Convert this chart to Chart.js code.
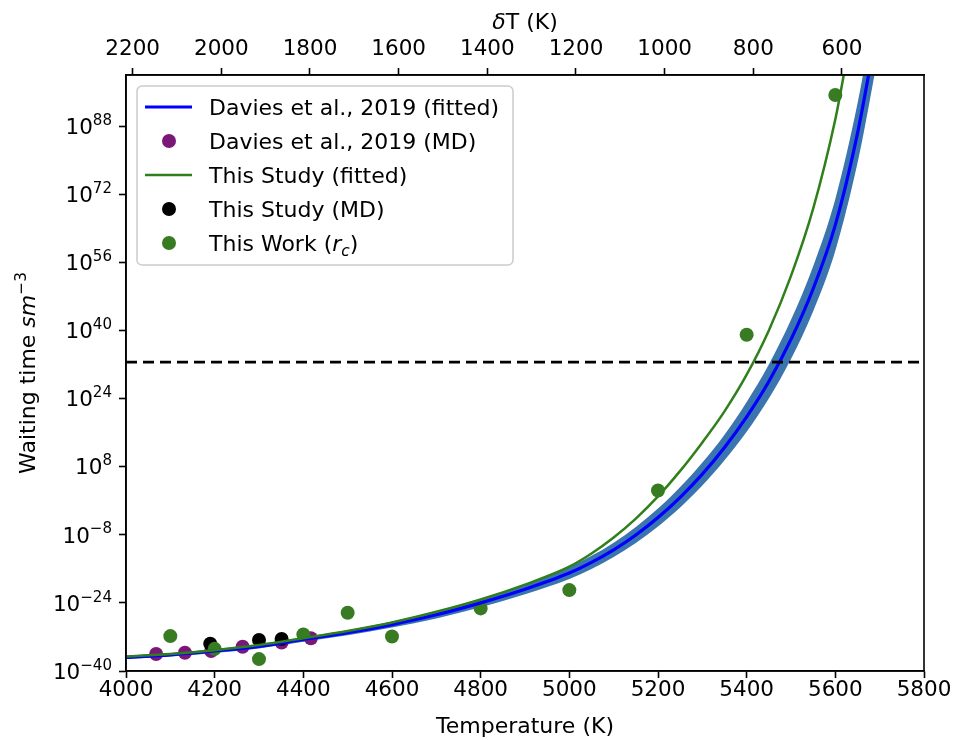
<!DOCTYPE html>
<html>
<head>
<meta charset="utf-8">
<title>Waiting time vs temperature</title>
<script src="https://cdn.jsdelivr.net/npm/chart.js@4.4.1/dist/chart.umd.min.js"></script>
<style>
body { margin: 0; background: #ffffff; }
canvas { display: block; }
</style>
</head>
<body>
<canvas id="waiting" width="956" height="740"></canvas>
<script>
// every y value is log10 of the waiting time (s m^-3)

// Davies et al., 2019 fitted curve with its uncertainty band
var daviesFitT = [4000, 4100, 4200, 4300, 4400, 4500, 4600, 4700, 4800, 4900, 5000, 5050, 5100, 5150, 5200,
  5250, 5300, 5350, 5400, 5450, 5500, 5550, 5600, 5650, 5675, 5690];
var daviesFit = [-36.8, -36.2, -35.3, -34.2, -32.6, -31.0, -29.1, -26.8, -24.0, -20.8, -17.0, -14.5, -11.55, -8.05, -3.95,
  0.8, 6.25, 12.5, 19.7, 28.0, 37.9, 49.8, 64.8, 86.3, 100.0, 109.0];
var daviesLow = [-37.2, -36.6, -35.75, -34.7, -33.15, -31.6, -29.8, -27.65, -25.0, -22.0, -18.4, -16.05, -13.25, -9.95, -6.05,
  -1.6, 3.55, 9.5, 16.2, 24.0, 33.3, 44.5, 58.7, 79.3, 92.5, 101.0];
var daviesHigh = [-36.4, -35.8, -34.85, -33.7, -32.05, -30.4, -28.4, -25.95, -23.0, -19.6, -15.6, -12.95, -9.85, -6.15, -1.85,
  3.2, 8.95, 15.5, 23.2, 32.0, 42.5, 55.1, 70.9, 93.3, 107.5, 117.0];

// Davies et al., 2019 MD points
var daviesMdT = [4068, 4133, 4192, 4263, 4351, 4417];
var daviesMd = [-36.0, -35.7, -35.3, -34.3, -33.3, -32.3];

// this study: fitted curve and MD points
var studyFitT = [4000, 4100, 4200, 4300, 4400, 4500, 4600, 4700, 4800, 4900, 5000, 5050, 5100, 5150, 5200,
  5250, 5300, 5350, 5400, 5450, 5500, 5550, 5600, 5620];
var studyFit = [-36.6, -36.0, -35.1, -33.9, -32.3, -30.6, -28.6, -26.1, -23.2, -19.7, -15.5, -12.4, -8.65, -4.2, 1.0,
  7.0, 13.7, 21.0, 29.6, 40.0, 52.8, 68.6, 89.6, 100.5];
var studyMdT = [4190, 4300, 4351];
var studyMd = [-33.6, -32.7, -32.5];

// this work, from r_c
var rcT = [4100, 4200, 4300, 4400, 4500, 4600, 4800, 5000, 5200, 5400, 5600];
var rcVals = [-31.8, -34.8, -37.2, -31.4, -26.3, -31.9, -25.3, -21.0, 2.4, 39.0, 95.3];

// dashed threshold
var thresholdLevel = 32.55;

// axes
var tempTicks = [4000, 4200, 4400, 4600, 4800, 5000, 5200, 5400, 5600, 5800];
var deltaTicks = [600, 800, 1000, 1200, 1400, 1600, 1800, 2000, 2200];
var expTicks = [-40, -24, -8, 8, 24, 40, 56, 72, 88];
var meltT = 6215;

var FONT = 'DejaVu Sans';
var blue = '#0000ff';
var band = '#3a75af';
var green = '#2f7f1a';
var greenDot = '#387b22';
var purple = '#7a187a';

function pairs(xs, ys) {
  return xs.map(function (x, i) { return {x: x, y: ys[i]}; });
}

// draws text made of styled pieces, returns width
function richText(ctx, parts, x, y, size, measureOnly) {
  var w = 0;
  parts.forEach(function (p) {
    var fs = size, dy = 0, style = '';
    if (p[1] === 'i') style = 'italic ';
    if (p[1] === 'isub') { style = 'italic '; fs = size * 0.7; dy = size * 0.22; }
    if (p[1] === 'sup') { fs = size * 0.7; dy = -size * 0.42; }
    ctx.font = style + fs + 'px "' + FONT + '"';
    if (!measureOnly) ctx.fillText(p[0], x + w, y + dy);
    w += ctx.measureText(p[0]).width;
  });
  return w;
}

var legendItems = [
  {mark: 'line', color: blue, width: 3.2, parts: [['Davies et al., 2019 (fitted)', '']]},
  {mark: 'dot', color: purple, parts: [['Davies et al., 2019 (MD)', '']]},
  {mark: 'line', color: green, width: 2.5, parts: [['This Study (fitted)', '']]},
  {mark: 'dot', color: '#000000', parts: [['This Study (MD)', '']]},
  {mark: 'dot', color: greenDot, parts: [['This Work (', ''], ['r', 'i'], ['c', 'isub'], [')', '']]}
];

var decorPlugin = {
  id: 'decor',
  afterDatasetsDraw: function (chart) {
    var ctx = chart.ctx, a = chart.chartArea;
    var size = 22;
    ctx.save();
    // axes frame
    ctx.strokeStyle = '#000';
    ctx.lineWidth = 1.6;
    ctx.strokeRect(a.left, a.top, a.right - a.left, a.bottom - a.top);

    // y tick labels as 10 with a raised exponent
    var ys = chart.scales.y;
    ctx.fillStyle = '#000';
    ctx.textBaseline = 'alphabetic';
    expTicks.forEach(function (v) {
      var parts = [['10', ''], [String(v).replace('-', '\u2212'), 'sup']];
      var w = richText(ctx, parts, 0, 0, 21.5, true);
      richText(ctx, parts, a.left - 14 - w, ys.getPixelForValue(v) + 21.5 * 0.36, 21.5);
    });

    // legend box
    var bx = 137, by = 86, bw = 376, bh = 179, r = 5;
    ctx.beginPath();
    ctx.moveTo(bx + r, by);
    ctx.arcTo(bx + bw, by, bx + bw, by + bh, r);
    ctx.arcTo(bx + bw, by + bh, bx, by + bh, r);
    ctx.arcTo(bx, by + bh, bx, by, r);
    ctx.arcTo(bx, by, bx + bw, by, r);
    ctx.closePath();
    ctx.fillStyle = 'rgba(255,255,255,0.8)';
    ctx.fill();
    ctx.strokeStyle = '#cccccc';
    ctx.lineWidth = 1.5;
    ctx.stroke();

    legendItems.forEach(function (it, i) {
      var cy = 107 + i * 34;
      if (it.mark === 'line') {
        ctx.strokeStyle = it.color;
        ctx.lineWidth = it.width;
        ctx.beginPath();
        ctx.moveTo(145, cy);
        ctx.lineTo(192, cy);
        ctx.stroke();
      } else {
        ctx.fillStyle = it.color;
        ctx.beginPath();
        ctx.arc(169, cy, 7, 0, Math.PI * 2);
        ctx.fill();
      }
      ctx.fillStyle = '#000';
      richText(ctx, it.parts, 209, cy + 22 * 0.36, 22);
    });

    // top axis title with italic delta
    var tParts = [['\u03b4', 'i'], ['T (K)', '']];
    var ttw = richText(ctx, tParts, 0, 0, size, true);
    richText(ctx, tParts, (a.left + a.right) / 2 - ttw / 2, 21 + size * 0.36, size);

    // y axis title with italic unit and superscript
    var yParts = [['Waiting time ', ''], ['sm', 'i'], ['\u22123', 'sup']];
    ctx.translate(27, (a.top + a.bottom) / 2);
    ctx.rotate(-Math.PI / 2);
    var tw = richText(ctx, yParts, 0, 0, size, true);
    richText(ctx, yParts, -tw / 2, size * 0.36, size);
    ctx.restore();
  }
};

var tickGrid = {display: true, drawOnChartArea: false, drawTicks: true, tickLength: 7, tickWidth: 1.6, tickColor: '#000'};
var axisBorder = {display: true, color: '#000', width: 1.6};
function plain(v) { return String(v); }

Chart.defaults.font.family = FONT;
Chart.defaults.font.size = 21.5;
Chart.defaults.color = '#000';

new Chart(document.getElementById('waiting'), {
  type: 'line',
  data: {
    datasets: [
      {label: 'threshold', data: [{x: 4000, y: thresholdLevel}, {x: 5800, y: thresholdLevel}],
        borderColor: '#000', borderWidth: 2.6, borderDash: [11, 6], pointRadius: 0, order: -1},
      {label: 'This Study (fitted)', data: pairs(studyFitT, studyFit), borderColor: green, borderWidth: 2.5,
        pointRadius: 0, cubicInterpolationMode: 'monotone', order: 0},
      {label: 'Davies et al., 2019 (fitted)', data: pairs(daviesFitT, daviesFit), borderColor: blue, borderWidth: 3.2,
        pointRadius: 0, cubicInterpolationMode: 'monotone', order: 1},
      {label: 'This Work (rc)', data: pairs(rcT, rcVals), showLine: false, pointRadius: 7, pointHoverRadius: 7,
        pointBackgroundColor: greenDot, pointBorderWidth: 0, order: 2},
      {label: 'This Study (MD)', data: pairs(studyMdT, studyMd), showLine: false, pointRadius: 7, pointHoverRadius: 7,
        pointBackgroundColor: '#000', pointBorderWidth: 0, order: 3},
      {label: 'Davies et al., 2019 (MD)', data: pairs(daviesMdT, daviesMd), showLine: false, pointRadius: 7, pointHoverRadius: 7,
        pointBackgroundColor: purple, pointBorderWidth: 0, order: 4},
      {label: 'band high', data: pairs(daviesFitT, daviesHigh), borderWidth: 0, pointRadius: 0,
        cubicInterpolationMode: 'monotone', fill: '+1', backgroundColor: band, order: 5},
      {label: 'band low', data: pairs(daviesFitT, daviesLow), borderWidth: 0, pointRadius: 0,
        cubicInterpolationMode: 'monotone', fill: false, order: 6}
    ]
  },
  options: {
    responsive: false,
    animation: false,
    devicePixelRatio: 1,
    layout: {padding: {left: 0, right: 32, top: 0, bottom: 0}},
    plugins: {legend: {display: false}, tooltip: {enabled: false}},
    scales: {
      x: {
        type: 'linear', position: 'bottom', min: 4000, max: 5800,
        afterBuildTicks: function (s) { s.ticks = tempTicks.map(function (v) { return {value: v}; }); },
        afterFit: function (s) { s.height = 69; },
        ticks: {padding: 0, maxRotation: 0, autoSkip: false, callback: plain},
        grid: tickGrid, border: axisBorder,
        title: {display: true, text: 'Temperature (K)', font: {size: 22}, padding: {top: 0, bottom: 0}}
      },
      xTop: {
        type: 'linear', position: 'top', min: meltT - 5800, max: meltT - 4000, reverse: true,
        afterBuildTicks: function (s) { s.ticks = deltaTicks.map(function (v) { return {value: v}; }); },
        afterFit: function (s) { s.height = 75; },
        ticks: {padding: 6, maxRotation: 0, autoSkip: false, callback: plain},
        grid: tickGrid, border: axisBorder
      },
      y: {
        type: 'linear', position: 'left', min: -40, max: 100,
        afterBuildTicks: function (s) { s.ticks = expTicks.map(function (v) { return {value: v}; }); },
        afterFit: function (s) { s.width = 126; },
        ticks: {display: false},
        grid: tickGrid, border: axisBorder
      }
    }
  },
  plugins: [decorPlugin]
});
</script>
</body>
</html>
